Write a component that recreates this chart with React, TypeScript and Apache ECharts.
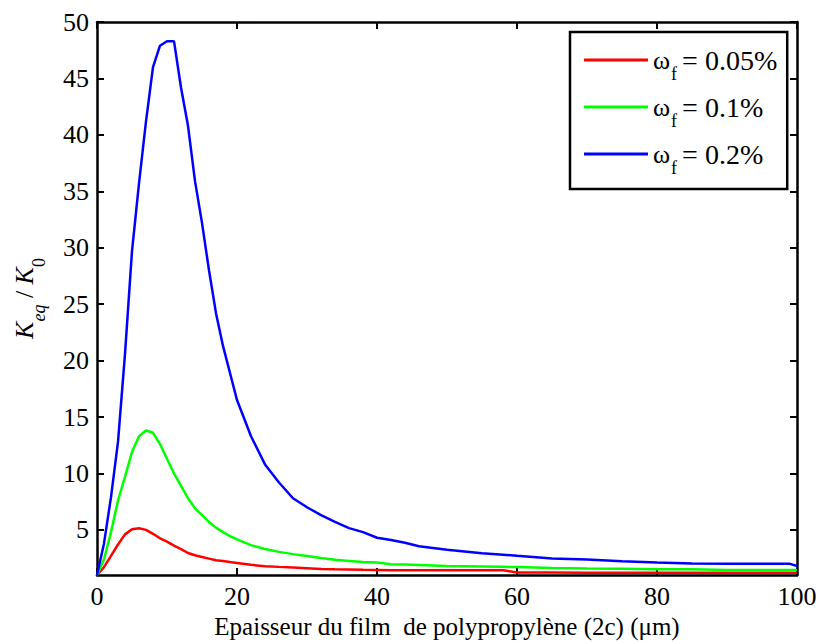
import React, { useEffect, useRef } from "react";
import * as echarts from "echarts";

const thickness = [0, 1, 2, 3, 4, 5, 6, 7, 8, 9, 10, 11, 12, 13, 14, 15, 16, 17, 18, 19, 20, 22, 24, 26, 28, 30, 32, 34, 36, 38, 40, 42, 44, 46, 48, 50, 55, 58, 60, 65, 70, 75, 80, 85, 90, 95, 99, 100];

const red005 = [1.0, 1.7, 2.7, 3.7, 4.6, 5.05, 5.15, 5.0, 4.65, 4.25, 3.95, 3.6, 3.3, 2.95, 2.75, 2.6, 2.45, 2.3, 2.25, 2.15, 2.07, 1.9, 1.78, 1.72, 1.67, 1.6, 1.53, 1.5, 1.48, 1.46, 1.45, 1.43, 1.43, 1.43, 1.43, 1.43, 1.43, 1.43, 1.22, 1.22, 1.21, 1.2, 1.2, 1.2, 1.2, 1.2, 1.2, 1.2];

const green01 = [1.0, 2.4, 4.8, 7.6, 9.7, 11.9, 13.3, 13.8, 13.6, 12.6, 11.3, 10.0, 8.9, 7.8, 6.9, 6.3, 5.7, 5.2, 4.8, 4.45, 4.15, 3.65, 3.3, 3.05, 2.85, 2.68, 2.5, 2.35, 2.25, 2.15, 2.1, 1.95, 1.92, 1.88, 1.84, 1.8, 1.75, 1.72, 1.7, 1.62, 1.58, 1.55, 1.52, 1.5, 1.45, 1.45, 1.45, 1.45];

const blue02 = [1.0, 3.8, 7.9, 12.8, 20.6, 29.7, 35.7, 41.2, 46.0, 47.9, 48.3, 48.3, 44.2, 40.8, 35.9, 32.2, 28.0, 24.2, 21.3, 18.9, 16.5, 13.3, 10.8, 9.2, 7.8, 7.0, 6.3, 5.7, 5.15, 4.8, 4.3, 4.1, 3.85, 3.55, 3.4, 3.23, 2.93, 2.8, 2.7, 2.47, 2.38, 2.22, 2.1, 2.03, 1.99, 1.99, 1.99, 1.8];

const seriesNames = ["ωf = 0.05%", "ωf = 0.1%", "ωf = 0.2%"];
const legendValues = ["0.05%", "0.1%", "0.2%"];
const yTicks = [5, 10, 15, 20, 25, 30, 35, 40, 45, 50];

const FONT = "Liberation Serif";

function pairs(vals: number[]) {
  return thickness.map((x, i) => [x, vals[i]]);
}

export default function App() {
  const ref = useRef<HTMLDivElement>(null);
  useEffect(() => {
    if (!ref.current) return;
    const chart = echarts.init(ref.current, null, { renderer: "svg" });
    const colors = ["#ff0000", "#00ff00", "#0000ff"];
    const datasets = [red005, green01, blue02];
    const axisCommon = {
      axisLine: { show: true, onZero: false, lineStyle: { color: "#000", width: 2.5 } },
      splitLine: { show: false },
    };
    const tickStyle = { show: true, inside: true, length: 7, lineStyle: { color: "#000", width: 2 } };
    chart.setOption({
      animation: false,
      backgroundColor: "#fff",
      textStyle: { fontFamily: FONT },
      grid: { left: 97, right: 27, top: 22, bottom: 69, containLabel: false },
      legend: {
        orient: "vertical",
        left: 570,
        top: 32,
        padding: [14, 10, 12, 14],
        itemGap: 10,
        itemWidth: 64,
        itemHeight: 3,
        icon: "rect",
        borderColor: "#000",
        borderWidth: 2.5,
        backgroundColor: "#fff",
        data: seriesNames,
        formatter: (name: string) => {
          const i = seriesNames.indexOf(name);
          return `{w|ω}{s|f}{t|= ${legendValues[i]}}`;
        },
        textStyle: {
          fontFamily: FONT,
          color: "#000",
          rich: {
            w: { fontFamily: FONT, fontSize: 26, color: "#000", lineHeight: 30, verticalAlign: "middle" },
            s: { fontFamily: FONT, fontSize: 18, color: "#000", lineHeight: 30, verticalAlign: "bottom", padding: [0, 5, -8, 1] },
            t: { fontFamily: FONT, fontSize: 28, color: "#000", lineHeight: 30, verticalAlign: "middle" },
          },
        },
      },
      xAxis: [
        {
          type: "value",
          min: 0,
          max: 100,
          interval: 20,
          position: "bottom",
          ...axisCommon,
          axisTick: tickStyle,
          axisLabel: { color: "#000", fontFamily: FONT, fontSize: 26, margin: 8 },
          name: "Epaisseur du film  de polypropylène (2c) (μm)",
          nameLocation: "middle",
          nameGap: 39,
          nameTextStyle: { color: "#000", fontFamily: FONT, fontSize: 25 },
        },
        {
          type: "value",
          min: 0,
          max: 100,
          interval: 20,
          position: "top",
          ...axisCommon,
          axisTick: tickStyle,
          axisLabel: { show: false },
        },
      ],
      yAxis: [
        {
          type: "value",
          min: 1,
          max: 50,
          position: "left",
          ...axisCommon,
          axisTick: { ...tickStyle, customValues: yTicks },
          axisLabel: { color: "#000", fontFamily: FONT, fontSize: 26, margin: 8, customValues: yTicks },
          name: "{k|K}{ks|eq}{sl| / }{k|K}{zs|0}",
          nameLocation: "middle",
          nameGap: 56,
          nameRotate: 90,
          nameTextStyle: {
            color: "#000",
            fontFamily: FONT,
            rich: {
              k: { fontFamily: FONT, fontSize: 26, fontStyle: "italic", color: "#000", lineHeight: 34, verticalAlign: "middle" },
              ks: { fontFamily: FONT, fontSize: 18, fontStyle: "italic", color: "#000", lineHeight: 34, verticalAlign: "bottom", padding: [0, 0, -7, 0] },
              sl: { fontFamily: FONT, fontSize: 26, color: "#000", lineHeight: 34, verticalAlign: "middle" },
              zs: { fontFamily: FONT, fontSize: 18, color: "#000", lineHeight: 34, verticalAlign: "bottom", padding: [0, 0, -7, 0] },
            },
          },
        },
        {
          type: "value",
          min: 1,
          max: 50,
          position: "right",
          ...axisCommon,
          axisTick: { ...tickStyle, customValues: yTicks },
          axisLabel: { show: false },
        },
      ],
      series: datasets.map((vals, i) => ({
        name: seriesNames[i],
        type: "line",
        xAxisIndex: 0,
        yAxisIndex: 0,
        data: pairs(vals),
        symbol: "none",
        smooth: false,
        lineStyle: { color: colors[i], width: 2.5 },
        itemStyle: { color: colors[i] },
        z: 2,
      })),
    });
    return () => chart.dispose();
  }, []);
  return (
    <div
      ref={ref}
      style={{ position: "absolute", left: 0, top: 0, width: 824, height: 644 }}
    />
  );
}
